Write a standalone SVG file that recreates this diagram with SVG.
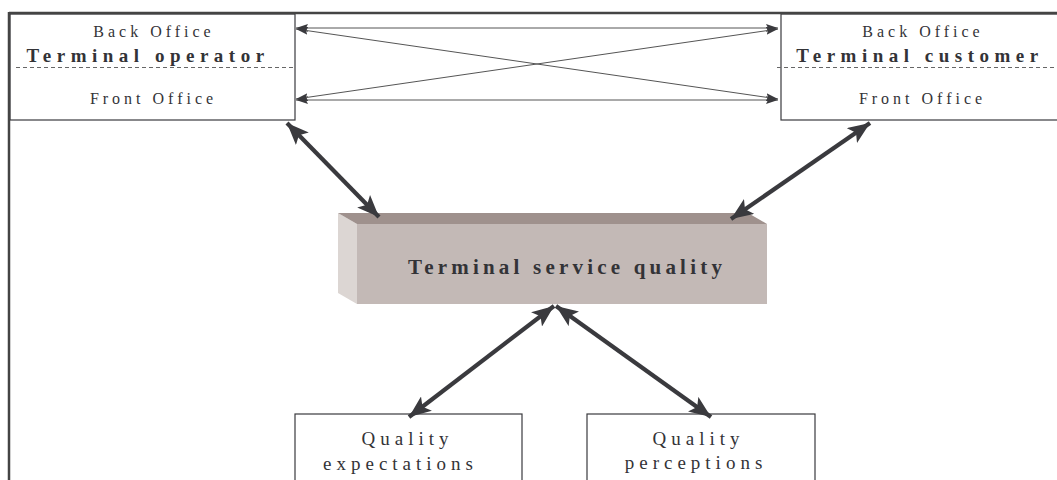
<svg xmlns="http://www.w3.org/2000/svg" width="1057" height="480" viewBox="0 0 1057 480">
<defs>
<style>
.t{font-family:"Liberation Serif","Times New Roman",serif;fill:#333337;text-anchor:middle}
.s{font-size:16px;letter-spacing:4px}
.b{font-size:19px;font-weight:bold;letter-spacing:5.5px}
.q{font-size:19px;letter-spacing:5px}
.box{fill:#fff;stroke:#3a3a3e;stroke-width:1.2}
.dash{stroke:#666;stroke-width:1;stroke-dasharray:4 3;fill:none}
.thin{stroke:#555;stroke-width:1;fill:none;marker-start:url(#hs);marker-end:url(#he)}
.thick{stroke:#3a3a3e;stroke-width:4.2;fill:none;marker-start:url(#Hs);marker-end:url(#He)}
</style>
<marker id="he" viewBox="0 0 12 8" refX="12" refY="4" markerWidth="12" markerHeight="8" markerUnits="userSpaceOnUse" orient="auto">
<path d="M0,0 L12,4 L0,8 L2,4 Z" fill="#3a3a3e"/>
</marker>
<marker id="hs" viewBox="0 0 12 8" refX="0" refY="4" markerWidth="12" markerHeight="8" markerUnits="userSpaceOnUse" orient="auto">
<path d="M12,0 L0,4 L12,8 L10,4 Z" fill="#3a3a3e"/>
</marker>
<marker id="He" viewBox="0 0 22 18" refX="22" refY="9" markerWidth="22" markerHeight="18" markerUnits="userSpaceOnUse" orient="auto">
<path d="M0,0 L22,9 L0,18 L5,9 Z" fill="#3a3a3e"/>
</marker>
<marker id="Hs" viewBox="0 0 22 18" refX="0" refY="9" markerWidth="22" markerHeight="18" markerUnits="userSpaceOnUse" orient="auto">
<path d="M22,0 L0,9 L22,18 L17,9 Z" fill="#3a3a3e"/>
</marker>
</defs>
<rect width="1057" height="480" fill="#fff"/>

<g id="operator">
<rect class="box" x="10" y="14" width="285" height="106"/>
<line class="dash" x1="16" y1="67.5" x2="295" y2="67.5"/>
<text class="t s" x="154" y="37">Back Office</text>
<text class="t b" x="148" y="62">Terminal operator</text>
<text class="t s" x="153.5" y="104">Front Office</text>
</g>

<g id="customer">
<rect class="box" x="781" y="14" width="280" height="106"/>
<line class="dash" x1="777" y1="67.5" x2="1057" y2="67.5"/>
<text class="t s" x="923" y="37">Back Office</text>
<text class="t b" x="920" y="62">Terminal customer</text>
<text class="t s" x="922.5" y="104">Front Office</text>
</g>

<g id="frame">
<line x1="9" y1="13" x2="1057" y2="13" stroke="#444" stroke-width="2.5"/>
<line x1="9" y1="12" x2="9" y2="480" stroke="#444" stroke-width="2.5"/>
</g>

<g id="service-quality">
<polygon points="338,213 357,224 357,304 338,293" fill="#dcd6d3"/>
<polygon points="338,213 748,213 767,224 357,224" fill="#9f918d"/>
<rect x="357" y="224" width="410" height="80" fill="#c3b9b6"/>
<text class="t b" x="567" y="274" style="font-size:21px;letter-spacing:4.2px">Terminal service quality</text>
</g>

<g id="expectations">
<rect class="box" x="295" y="414" width="227" height="80"/>
<text class="t q" x="407.5" y="445">Quality</text>
<text class="t q" x="400.5" y="470">expectations</text>
</g>

<g id="perceptions">
<rect class="box" x="587" y="414" width="228" height="80"/>
<text class="t q" x="698.5" y="445">Quality</text>
<text class="t q" x="696" y="469">perceptions</text>
</g>

<g id="connectors">
<line class="thin" x1="296" y1="28" x2="778" y2="28"/>
<line class="thin" x1="296" y1="100" x2="778" y2="100"/>
<line class="thin" x1="296" y1="29" x2="778" y2="99"/>
<line class="thin" x1="296" y1="99" x2="778" y2="29"/>
<line class="thick" x1="287" y1="123" x2="379" y2="217"/>
<line class="thick" x1="870" y1="123" x2="731" y2="219"/>
<line class="thick" x1="554" y1="306" x2="409" y2="417"/>
<line class="thick" x1="556" y1="306" x2="711" y2="417"/>
</g>
</svg>
